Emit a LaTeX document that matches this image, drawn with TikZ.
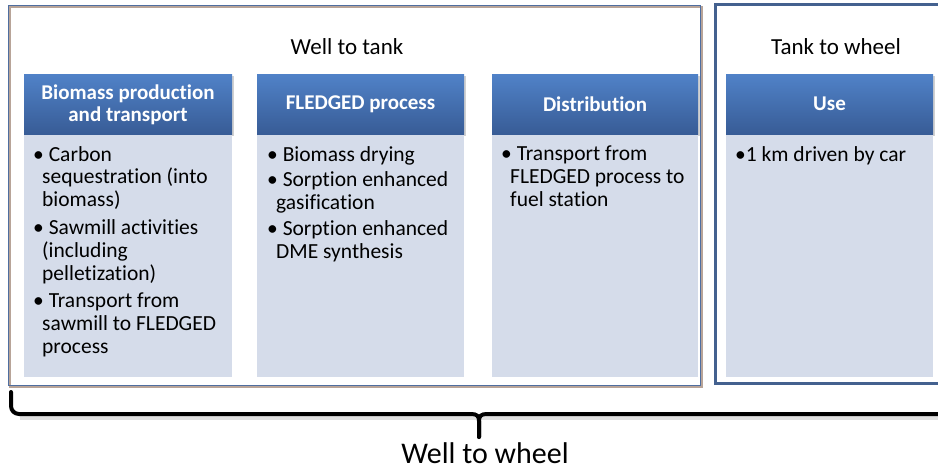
\documentclass[tikz,border=0pt]{standalone}
\usepackage{fontspec}
\setmainfont{Carlito}[Ligatures=NoCommon]
\begin{document}
\begin{tikzpicture}[x=1pt,y=-1pt,
  frameblue/.style={draw=frameB, line width=1.3pt},
  hdr/.style={top color=hdrTop, bottom color=hdrBot, draw=none},
  hdrtext/.style={text=white, font=\fontsize{21}{22}\selectfont\bfseries, align=center, inner sep=0pt},
  itemtext/.style={font=\fontsize{21.5}{22.8}\selectfont, align=left, anchor=north west, inner sep=0pt, text=black},
  title/.style={font=\fontsize{23}{26}\selectfont, inner sep=0pt},
  bracepen/.style={line width=4pt, line cap=round, line join=round}
]
\definecolor{frameB}{RGB}{79,110,160}
\definecolor{frameS}{RGB}{184,164,152}
\definecolor{frameR}{RGB}{68,97,143}
\definecolor{hdrTop}{RGB}{80,130,200}
\definecolor{hdrBot}{RGB}{56,92,150}
\definecolor{bodyC}{RGB}{213,220,234}

\useasboundingbox (0,0) rectangle (938,471);
\clip (0,0) rectangle (938,471);

% outer frames
\draw[frameS, line width=1.3pt] (10,7) rectangle (702,387);
\draw[frameblue] (8.5,5.5) rectangle (700.5,385.5);
\draw[draw=frameR, line width=3pt] (715,4.5) rectangle (950,383.5);

% section titles
\node[title] (wtt) at (347,47) {Well to tank};
\node[title] (ttw) at (836,47) {Tank to wheel};

% column headers with soft shadow
\foreach \xa/\xb in {24/232, 257/464, 492/698, 726/933}{
  \fill[black!18] (\xa+1,76) rectangle (\xb+2,136);
}
\fill[bodyC] (24,134) rectangle (232,377);
\fill[bodyC] (257,134) rectangle (464,377);
\fill[bodyC] (492,134) rectangle (698,377);
\fill[bodyC] (726,134) rectangle (933,377);
\shade[hdr] (24,74) rectangle (232,134);
\shade[hdr] (257,74) rectangle (464,134);
\shade[hdr] (492,74) rectangle (698,134);
\shade[hdr] (726,74) rectangle (933,134);

\node[hdrtext] (h1) at (128,105) {Biomass production\\and transport};
\node[hdrtext] (h2) at (360.5,104) {FLEDGED process};
\node[hdrtext] (h3) at (595,104) {Distribution};
\node[hdrtext] (h4) at (829.5,104) {Use};

% bullet lists
\node[itemtext] (b1) at (33,146) {%
  \textbullet\ Carbon\\
  \hspace*{9pt}sequestration (into\\
  \hspace*{9pt}biomass)\\[5pt]
  \textbullet\ Sawmill activities\\
  \hspace*{9pt}(including\\
  \hspace*{9pt}pelletization)\\[5pt]
  \textbullet\ Transport from\\
  \hspace*{9pt}sawmill to FLEDGED\\
  \hspace*{9pt}process};
\node[itemtext] (b2) at (267,146) {%
  \textbullet\ Biomass drying\\[3pt]
  \textbullet\ Sorption enhanced\\
  \hspace*{9pt}gasification\\[3pt]
  \textbullet\ Sorption enhanced\\
  \hspace*{9pt}DME synthesis};
\node[itemtext] (b3) at (501,146) {%
  \textbullet\ Transport from\\
  \hspace*{9pt}FLEDGED process to\\
  \hspace*{9pt}fuel station};
\node[itemtext] (b4) at (735,146) {\textbullet 1 km driven by car};

% brace spanning the whole chain
\coordinate (bl) at (11,392);
\coordinate (bm) at (479,437);
\coordinate (br) at (945,414);
\draw[line width=4pt, black!12] (20,418) -- (945,418);
\draw[bracepen] (bl) -- (11,406) arc[start angle=180, end angle=90, radius=8] -- (471,414)
  .. controls (477,414) and (479,416) .. (479,421) -- (bm);
\draw[bracepen] (bm) -- (479,421) .. controls (479,416) and (481,414) .. (487,414) -- (br);

\node[font=\fontsize{30}{33}\selectfont, inner sep=0pt] (wtw) at (485,453) {Well to wheel};
\end{tikzpicture}
\end{document}
